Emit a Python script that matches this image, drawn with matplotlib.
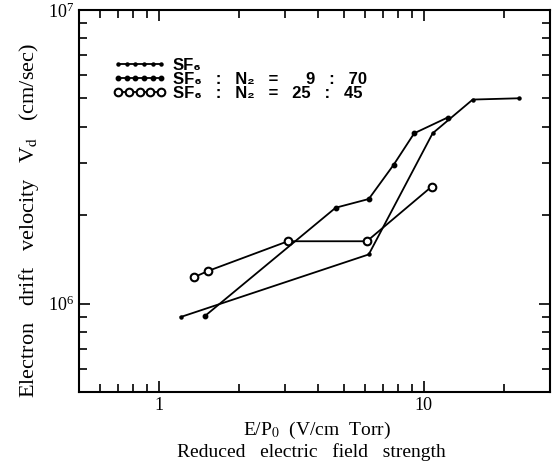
import matplotlib.pyplot as plt
from matplotlib.ticker import LogLocator, NullFormatter, FixedLocator, FixedFormatter
from matplotlib.legend_handler import HandlerLine2D

plt.rcParams['mathtext.fontset'] = 'stix'

# Datos
sf6_x = [1.21, 6.2, 10.8, 15.3, 22.8]
sf6_y = [9.0e5, 1.47e6, 3.8e6, 4.95e6, 5.0e6]

mix1_x = [1.5, 4.65, 6.2, 7.7, 9.2, 12.3]
mix1_y = [9.1e5, 2.12e6, 2.27e6, 2.97e6, 3.8e6, 4.3e6]

mix2_x = [1.36, 1.53, 3.07, 6.1, 10.7]
mix2_y = [1.23e6, 1.29e6, 1.63e6, 1.63e6, 2.5e6]

labels = ["SF₆", "SF₆   :   N₂   =      9   :   70", "SF₆   :   N₂   =   25   :   45"]

fig = plt.figure(figsize=(5.59, 4.70), dpi=100)
ax = fig.add_axes([0.1413, 0.166, 0.843, 0.813])

l1, = ax.plot(sf6_x, sf6_y, color="black", lw=1.3, marker="o", ms=2.2, label=labels[0])
l2, = ax.plot(mix1_x, mix1_y, color="black", lw=1.3, marker="o", ms=3.2, label=labels[1])
l3, = ax.plot(mix2_x, mix2_y, color="black", lw=1.3, marker="o", ms=5.5, mfc="white", mew=1.5,
              label=labels[2])

ax.set_xscale("log")
ax.set_yscale("log")
ax.set_xlim(0.5, 30)
ax.set_ylim(5e5, 1e7)

# Ticks hacia adentro en los cuatro lados
ax.tick_params(which="both", direction="in", top=True, right=True, width=1.2)
ax.tick_params(which="major", length=8, labelsize=13)
ax.tick_params(which="minor", length=6)
ax.xaxis.set_major_locator(FixedLocator([1, 10]))
ax.xaxis.set_major_formatter(FixedFormatter(["1", "10"]))
ax.xaxis.set_minor_locator(LogLocator(base=10, subs=range(2, 10), numticks=20))
ax.xaxis.set_minor_formatter(NullFormatter())
ax.yaxis.set_minor_locator(LogLocator(base=10, subs=range(2, 10), numticks=20))
ax.yaxis.set_minor_formatter(NullFormatter())
for lbl in ax.get_xticklabels() + ax.get_yticklabels():
    lbl.set_fontfamily("Liberation Serif")
for sp in ax.spines.values():
    sp.set_linewidth(1.5)

# Etiquetas de los ejes
fig.text(317 / 559, 1 - 430 / 470, "E/P$_0$  (V/cm  Torr)", fontsize=14,
         family="Liberation Serif", ha="center", va="center")
fig.text(311 / 559, 1 - 452 / 470, "Reduced   electric   field   strength", fontsize=14,
         family="Liberation Serif", ha="center", va="center")
fig.text(29 / 559, 1 - 221 / 470, "Electron   drift   velocity   V$_\\mathrm{d}$   (cm/sec)",
         fontsize=16, family="Liberation Serif", rotation=90, ha="center", va="center")

leg = ax.legend(loc="upper left", bbox_to_anchor=(0.072, 0.875), numpoints=6, frameon=False,
                borderpad=0, borderaxespad=0,
                handlelength=3.2, handletextpad=0.4, labelspacing=-0.05,
                handler_map={l3: HandlerLine2D(numpoints=5)},
                prop={"family": "Liberation Sans", "weight": "bold", "size": 12})

plt.savefig("out.png", dpi=100)
